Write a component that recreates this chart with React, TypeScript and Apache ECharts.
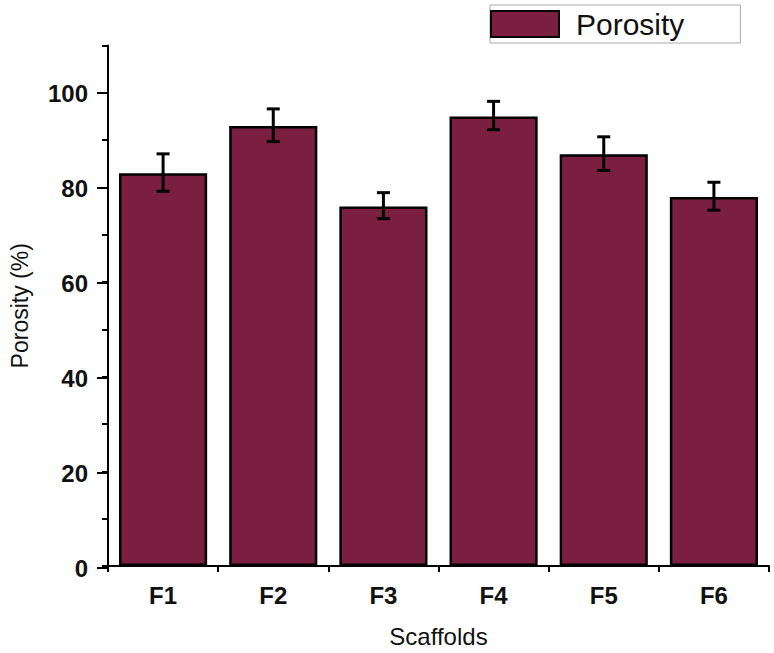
import React, { useEffect, useRef } from "react";
import * as echarts from "echarts";

const categories = ["F1", "F2", "F3", "F4", "F5", "F6"];
const porosity = [83, 93, 76, 95, 87, 78];
const errLow = [79.2, 89.7, 73.4, 92.2, 83.6, 75.2];
const errHigh = [87.1, 96.6, 78.9, 98.2, 90.7, 81.1];

const FONT = "'Liberation Sans', Arial, Helvetica, sans-serif";
const BAR_COLOR = "#7a1f40";

export default function App() {
  const ref = useRef<HTMLDivElement>(null);
  useEffect(() => {
    if (!ref.current) return;
    const chart = echarts.init(ref.current, null, { renderer: "svg" });
    const errData = categories.map((_, i) => [i, errLow[i], errHigh[i]]);
    chart.setOption({
      animation: false,
      backgroundColor: "#ffffff",
      textStyle: { fontFamily: FONT },
      legend: {
        data: ["Porosity"],
        left: 490,
        top: 5,
        padding: [4, 56, 4, 0],
        borderColor: "#aaaaaa",
        borderWidth: 1,
        itemWidth: 68,
        itemHeight: 26,
        icon: "rect",
        textStyle: { fontSize: 30, color: "#111", fontFamily: FONT, padding: [0, 0, 0, 12], lineHeight: 26 },
      },
      grid: [
        { left: 107, right: 5, top: 45.5, bottom: 85 },
        { left: 107, right: 5, top: 93, bottom: 85 },
      ],
      xAxis: [
        {
          type: "category",
          gridIndex: 0,
          data: categories,
          axisLine: { lineStyle: { color: "#000", width: 2 } },
          axisTick: { alignWithLabel: true, length: 10, lineStyle: { color: "#000", width: 2 } },
          axisLabel: { fontSize: 24, fontWeight: "bold", color: "#111", margin: 17, fontFamily: FONT },
          name: "Scaffolds",
          nameLocation: "middle",
          nameGap: 58,
          nameTextStyle: { fontSize: 24, color: "#111", fontFamily: FONT },
        },
        {
          type: "category",
          gridIndex: 0,
          data: categories,
          position: "bottom",
          axisLine: { show: false },
          axisTick: { show: true, length: 6, lineStyle: { color: "#000", width: 2 } },
          axisLabel: { show: false },
        },
        { type: "category", gridIndex: 1, data: categories, show: false },
      ],
      yAxis: [
        {
          type: "value",
          gridIndex: 0,
          min: 0,
          max: 110,
          interval: 10,
          axisLine: { show: true, lineStyle: { color: "#000", width: 2 } },
          axisTick: { show: true, length: 6, lineStyle: { color: "#000", width: 2 } },
          axisLabel: { show: false },
          splitLine: { show: false },
          name: "Porosity (%)",
          nameLocation: "middle",
          nameGap: 77,
          nameTextStyle: { fontSize: 23, color: "#111", fontFamily: FONT },
        },
        {
          type: "value",
          gridIndex: 1,
          min: 0,
          max: 100,
          interval: 20,
          axisLine: { show: false },
          axisTick: { show: true, length: 10, lineStyle: { color: "#000", width: 2 } },
          axisLabel: { fontSize: 24, fontWeight: "bold", color: "#111", margin: 19, fontFamily: FONT },
          splitLine: { show: false },
        },
      ],
      series: [
        {
          name: "Porosity",
          type: "bar",
          xAxisIndex: 0,
          yAxisIndex: 0,
          data: porosity,
          barWidth: "80%",
          itemStyle: { color: BAR_COLOR, borderColor: "#000", borderWidth: 2.5 },
        },
        {
          type: "custom",
          xAxisIndex: 0,
          yAxisIndex: 0,
          data: errData,
          z: 5,
          renderItem: (params: any, api: any) => {
            const x = api.value(0);
            const top = api.coord([x, api.value(2)]);
            const bot = api.coord([x, api.value(1)]);
            const hw = 6.5;
            const style = { stroke: "#000", lineWidth: 3 };
            return {
              type: "group",
              children: [
                { type: "line", shape: { x1: top[0], y1: top[1], x2: bot[0], y2: bot[1] }, style },
                { type: "line", shape: { x1: top[0] - hw, y1: top[1], x2: top[0] + hw, y2: top[1] }, style },
                { type: "line", shape: { x1: bot[0] - hw, y1: bot[1], x2: bot[0] + hw, y2: bot[1] }, style },
              ],
            };
          },
        },
      ],
    });
    return () => chart.dispose();
  }, []);
  return (
    <div
      ref={ref}
      style={{ position: "fixed", left: 0, top: 0, width: 774, height: 653, background: "#fff" }}
    />
  );
}
